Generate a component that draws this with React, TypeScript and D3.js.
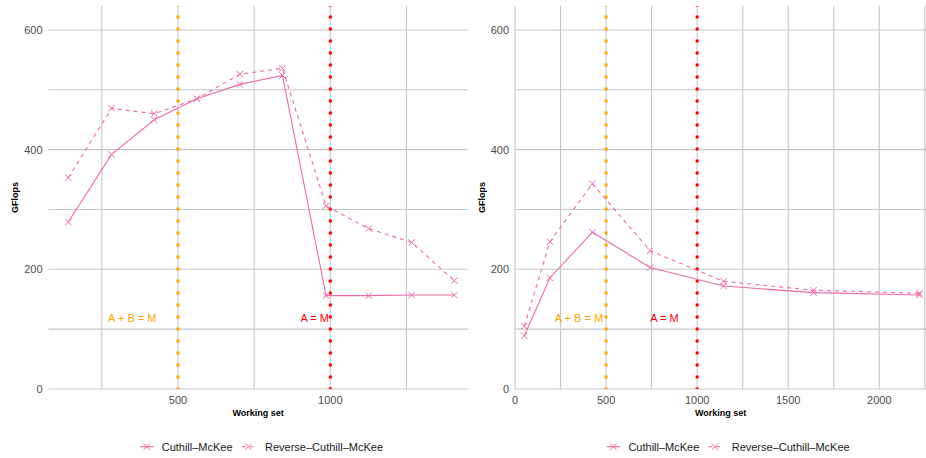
import React from "react";
import * as d3 from "d3";

const seriesNames = ["Cuthill–McKee", "Reverse–Cuthill–McKee"];

const leftX = [140, 282, 422, 562, 703, 843, 986, 1126, 1267, 1407];
const leftCM = [279, 392, 450, 485, 509, 524, 156, 156, 157, 157];
const leftRCM = [353, 469, 460, 485, 526, 536, 306, 268, 245, 181];

const rightX = [51, 192, 425, 742, 1145, 1639, 2220];
const rightCM = [89, 186, 262, 203, 172, 161, 157];
const rightRCM = [105, 246, 343, 231, 180, 165, 160];

const yTicks = [0, 200, 400, 600];
const yMinor = [100, 300, 500];
const leftXTicks = [500, 1000];
const leftXMinor = [250, 750, 1250];
const rightXTicks = [0, 500, 1000, 1500, 2000];
const rightXMinor = [250, 750, 1250, 1750, 2250];

const vlines = [
  { x: 500, color: "#FFA500", label: "A + B = M" },
  { x: 1000, color: "#FF0000", label: "A = M" },
];
const leftLabelX = [350, 949];
const rightLabelX = [351, 820];
const labelY = 119;

const PINK = "#EE6AA7";
const GRID = "#C6C6C6";
const FONT = "'Liberation Sans', Arial, Helvetica, sans-serif";

type PanelProps = {
  xDomain: [number, number];
  xRange: [number, number];
  xs: number[];
  cm: number[];
  rcm: number[];
  xTicks: number[];
  xMinor: number[];
  labelXs: number[];
  legendDx: number;
};

function Cross({ x, y }: { x: number; y: number }) {
  const s = 3.2;
  return (
    <path
      d={`M${x - s},${y - s}L${x + s},${y + s}M${x - s},${y + s}L${x + s},${y - s}`}
      stroke={PINK}
      strokeWidth={1}
      fill="none"
    />
  );
}

function Panel(p: PanelProps) {
  const top = 6;
  const bottom = 389;
  const x = d3.scaleLinear().domain(p.xDomain).range(p.xRange);
  const y = d3.scaleLinear().domain([0, 640]).range([bottom, top]);
  const [x0, x1] = p.xRange;
  const line = d3
    .line<[number, number]>()
    .x((d) => x(d[0]))
    .y((d) => y(d[1]));
  const cmPts = p.xs.map((v, i) => [v, p.cm[i]] as [number, number]);
  const rcmPts = p.xs.map((v, i) => [v, p.rcm[i]] as [number, number]);
  const cx = (x0 + x1) / 2;
  const cy = (top + bottom) / 2;
  const lg = p.legendDx;
  const legY = 446.7;
  return (
    <g>
      {[...yMinor, ...yTicks].map((t) => (
        <line key={"h" + t} x1={x0} x2={x1} y1={y(t)} y2={y(t)} stroke={GRID} strokeWidth={1.1} />
      ))}
      {[...p.xMinor, ...p.xTicks].map((t) => (
        <line key={"v" + t} x1={x(t)} x2={x(t)} y1={top} y2={bottom} stroke={GRID} strokeWidth={1.1} />
      ))}
      {vlines.map((v) => (
        <line
          key={"vl" + v.x}
          x1={x(v.x)}
          x2={x(v.x)}
          y1={bottom}
          y2={top}
          stroke={v.color}
          strokeWidth={3}
          strokeDasharray="3.2 8.8"
          strokeDashoffset={1.6}
        />
      ))}
      {vlines.map((v, i) => (
        <text
          key={"lab" + i}
          x={x(p.labelXs[i])}
          y={y(labelY) + 4}
          fill={v.color}
          fontSize={11}
          textAnchor="middle"
          fontFamily={FONT}
        >
          {v.label}
        </text>
      ))}
      <path d={line(cmPts) || ""} stroke={PINK} strokeWidth={1.1} fill="none" />
      <path d={line(rcmPts) || ""} stroke={PINK} strokeWidth={1.1} fill="none" strokeDasharray="4 4" />
      {cmPts.map((d, i) => (
        <Cross key={"c" + i} x={x(d[0])} y={y(d[1])} />
      ))}
      {rcmPts.map((d, i) => (
        <Cross key={"r" + i} x={x(d[0])} y={y(d[1])} />
      ))}
      {yTicks.map((t) => (
        <text
          key={"yt" + t}
          x={x0 - 6}
          y={y(t) + 4}
          textAnchor="end"
          fontSize={11}
          fill="#4D4D4D"
          fontFamily={FONT}
        >
          {t}
        </text>
      ))}
      {p.xTicks.map((t) => (
        <text
          key={"xt" + t}
          x={x(t)}
          y={404}
          textAnchor="middle"
          fontSize={11}
          fill="#4D4D4D"
          fontFamily={FONT}
        >
          {t}
        </text>
      ))}
      <text x={cx} y={416} textAnchor="middle" fontSize={9} fontWeight="bold" fontFamily={FONT} fill="#000">
        Working set
      </text>
      <text
        transform={`translate(${x0 - 30.5},${cy}) rotate(-90)`}
        textAnchor="middle"
        fontSize={9}
        fontWeight="bold"
        fontFamily={FONT}
        fill="#000"
      >
        GFlops
      </text>
      <g>
        <line x1={lg + 140} x2={lg + 153.4} y1={legY} y2={legY} stroke={PINK} strokeWidth={1.1} />
        <Cross x={lg + 146.7} y={legY} />
        <text x={lg + 161.7} y={legY + 4} fontSize={11} fontFamily={FONT} fill="#1A1A1A">
          {seriesNames[0]}
        </text>
        <line
          x1={lg + 241.6}
          x2={lg + 255}
          y1={legY}
          y2={legY}
          stroke={PINK}
          strokeWidth={1.1}
          strokeDasharray="4 4"
        />
        <Cross x={lg + 248.3} y={legY} />
        <text x={lg + 265} y={legY + 4} fontSize={11} fontFamily={FONT} fill="#1A1A1A">
          {seriesNames[1]}
        </text>
      </g>
    </g>
  );
}

export default function App() {
  return (
    <svg width={926} height={458} style={{ position: "absolute", left: 0, top: 0, background: "#fff" }}>
      <rect width={926} height={458} fill="#fff" />
      <Panel
        xDomain={[75, 1451]}
        xRange={[48.5, 467.7]}
        xs={leftX}
        cm={leftCM}
        rcm={leftRCM}
        xTicks={leftXTicks}
        xMinor={leftXMinor}
        labelXs={leftLabelX}
        legendDx={0}
      />
      <Panel
        xDomain={[0, 2258]}
        xRange={[515, 926.3]}
        xs={rightX}
        cm={rightCM}
        rcm={rightRCM}
        xTicks={rightXTicks}
        xMinor={rightXMinor}
        labelXs={rightLabelX}
        legendDx={466.7}
      />
    </svg>
  );
}
